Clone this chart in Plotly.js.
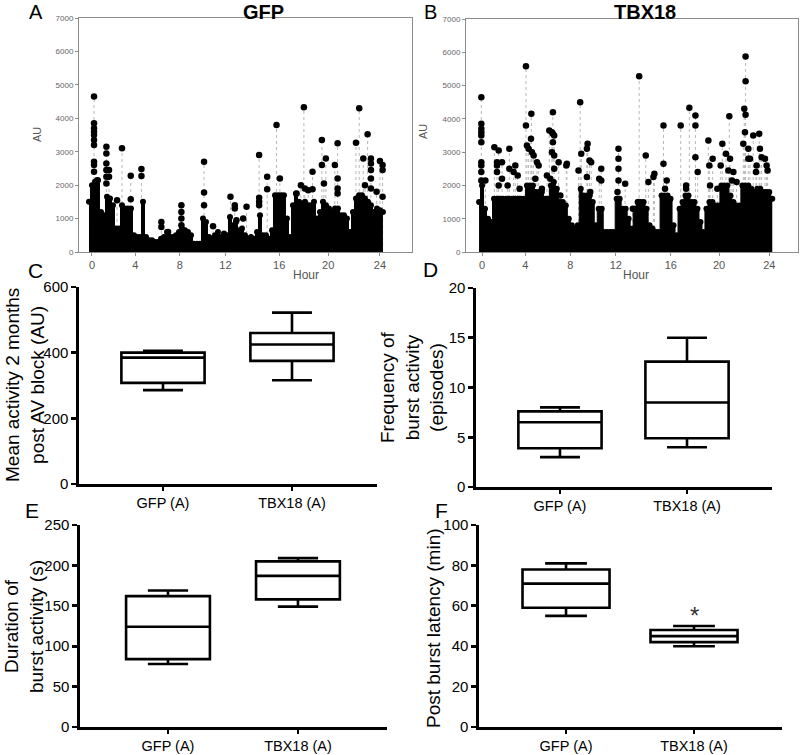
<!DOCTYPE html>
<html>
<head>
<meta charset="utf-8">
<script src="https://cdn.plot.ly/plotly-3.0.1.min.js"></script>
<style>html,body{margin:0;padding:0;background:#fff;}#chart{width:800px;height:755px;}</style>
</head>
<body>
<div id="chart"></div>
<script>
// ---------- DATA ----------
const hourLabels = ["0","4","8","12","16","20","24"];
const hourTickPosA = [0, 3.615, 7.314, 11.123, 15.599, 19.688, 24.0];
const hourTickPosB = [0, 3.615, 7.369, 11.179, 15.768, 19.8, 24.0];

// envelope of the dense activity mass (AU) on a quarter-hour grid
const envHours = [-0.25,0,0.25,0.5,0.75,1,1.25,1.5,1.75,2,2.25,2.5,2.75,3,3.25,3.5,3.75,4,4.25,4.5,4.75,5,5.25,5.5,5.75,6,6.25,6.5,6.75,7,7.25,7.5,7.75,8,8.25,8.5,8.75,9,9.25,9.5,9.75,10,10.25,10.5,10.75,11,11.25,11.5,11.75,12,12.25,12.5,12.75,13,13.25,13.5,13.75,14,14.25,14.5,14.75,15,15.25,15.5,15.75,16,16.25,16.5,16.75,17,17.25,17.5,17.75,18,18.25,18.5,18.75,19,19.25,19.5,19.75,20,20.25,20.5,20.75,21,21.25,21.5,21.75,22,22.25,22.5,22.75,23,23.25,23.5,23.75,24,24.25];
const envGFP = [1500,2000,2100,2150,1200,1100,1650,1600,1400,700,700,1400,1300,1300,1300,500,450,450,1500,450,350,350,300,300,400,450,600,450,450,500,600,700,650,600,500,250,250,250,1000,900,450,400,500,600,450,550,500,1050,800,900,650,700,500,400,450,400,600,1100,500,500,400,650,1700,1700,1700,1700,1000,450,1400,1750,1500,1450,1500,1400,1400,1500,1000,1200,1500,1400,1300,1200,1300,1300,1100,1100,1000,600,1200,1600,1700,1700,1600,1500,1400,1200,1300,1250,1200];
const envTBX = [1500,2000,1300,1000,900,1600,1600,1600,1600,1600,1600,1600,1600,1600,1600,1600,2000,2000,2000,1800,1800,1800,1600,1600,2000,2100,1900,1500,1500,1400,1000,800,700,800,1900,1700,1700,1700,1500,800,1300,1300,600,600,600,600,1600,1600,1300,1300,1000,700,1300,1500,1500,1500,1300,800,700,600,600,1700,1700,1700,1600,800,500,1300,1500,1700,1700,1500,1500,1300,900,600,1300,1500,1500,1400,1400,2000,2000,2000,1700,1500,1400,1400,2000,2000,2000,1900,1800,1900,1900,1800,1800,1800,1600];

// burst points above the mass: hour and the AU values recorded there
const peakHoursGFP = [0.17,0.44,1.2,1.42,2.09,2.5,3.23,4.12,5.78,6.34,7.45,9.34,10.09,11.54,11.9,12.04,12.6,12.88,13.93,14.6,15.38,15.66,17.05,17.41,17.66,17.74,18.02,18.38,19.16,19.33,19.49,20.24,20.47,22.0,22.27,22.61,22.75,22.97,23.25,23.72,24.0,24.22];
const peakAUGFP = [[4650,3850,3700,3600,3500,3350,3200,2700,2600,2400],[2150],[3150,2950,2650,2450,2250,2050],[2450,2250],[1550],[3100],[2280,1580],[2480,2270],[900,750],[600],[1400,1200,1000,800],[2700,1780,1400],[770],[1650],[1400,1300],[950],[1000],[1350],[2900,1620,1500,1400],[2250,1880],[3800],[2200],[1750],[2000],[4330],[1900],[1850],[2400,1880],[3350,2600],[2050],[2800],[2600],[3250,2200,1900,1750],[3270],[4300],[2800],[2000],[3520],[2800,2650,2450,2200,1900],[1800],[2720],[2600,2450,1650]];

const peakHoursTBX = [-0.06,0.28,1.03,1.25,1.39,1.67,2.14,2.28,2.64,2.78,2.98,3.14,3.67,3.75,3.89,4.09,4.12,4.17,4.31,4.45,4.59,4.73,5.0,5.42,5.62,5.7,5.84,5.92,6.03,6.4,6.54,7.04,7.09,8.06,8.2,8.29,8.76,8.82,8.98,9.04,9.12,9.79,9.96,11.32,11.4,11.96,12.6,13.07,13.13,13.68,13.9,14.32,14.4,15.16,15.29,15.43,16.6,17.05,17.32,17.83,18.02,18.91,18.99,19.05,19.27,19.66,19.94,20.08,20.38,20.58,20.66,20.72,20.88,21.0,21.27,21.83,21.91,21.97,22.02,22.25,22.39,22.66,22.89,22.94,23.16,23.22,23.36,23.64,23.78,23.86];
const peakAUTBX = [[4650,3850,3700,3600,3500,3300,2700,2600,2400,2150],[2150],[3150],[2700,2600,2400],[3050,2000],[2700,2200],[2000],[3100,2500],[2400],[2600],[2300],[1900],[5580,3800],[3200],[3100],[3400],[4150],[3000],[2900],[2200],[2700],[2600],[1900],[2300],[3650],[2200],[3600,3000],[4200,3550,3300],[3500,2900,2500],[2700],[1700],[2600],[2650],[2450],[4500],[2950],[3100,2250],[3250],[2750],[1800],[2700],[2200],[2500,2150],[1800],[3100,2800,2500,2150],[2050],[1300],[1500],[5280],[2900],[2100],[2250],[2350],[3800,2650],[1900],[2150],[3800],[2000,1900],[4330],[4100,3800,2850],[2400],[3350],[2600],[2000],[2800],[1900],[2600],[3250],[2950],[2450],[4080],[2800],[2150],[2400],[2100],[3250],[4300],[3600],[5870,5130,4120],[3100,2800],[2800],[3500],[2400],[2600],[3550],[3100],[2850],[2800],[2600],[2450]];

// box plot summaries
const boxGroups = ["GFP (A)", "TBX18 (A)"];
const meanActivity = {lower:[286,316], q1:[308,375], median:[385,425], q3:[400,460], upper:[406,522]};
const burstFrequency = {lower:[3,4], q1:[3.9,4.9], median:[6.5,8.5], q3:[7.6,12.6], upper:[8,15]};
const burstDuration = {lower:[78,149], q1:[84,158], median:[124,187], q3:[162,205], upper:[169,209]};
const burstLatency = {lower:[55,40], q1:[59,42], median:[71,45], q3:[78,48], upper:[81,50]};
const latencyStarValue = 56.6;

// ---------- BUILD ----------
const W = 800, H = 755;
const px = v => v / W, py = v => 1 - v / H;
const FONT = "Liberation Sans, Arial, Helvetica, sans-serif";

function expandPeaks(hours, vals) {
  const x = [], y = [], sx = [], sy = [];
  hours.forEach((h, i) => {
    vals[i].forEach(v => { x.push(h); y.push(v); });
    const top = Math.max.apply(null, vals[i]);
    sx.push(h, h, null); sy.push(0, top, null);
  });
  return {x, y, sx, sy};
}

function activityTraces(env, hours, vals, xa, ya) {
  const p = expandPeaks(hours, vals);
  return [
    {type:'scatter', mode:'lines', x:p.sx, y:p.sy, xaxis:xa, yaxis:ya,
     line:{color:'#b8b8b8', width:1, dash:'dot'}, hoverinfo:'skip', showlegend:false},
    {type:'scatter', mode:'lines+markers', x:envHours, y:env, xaxis:xa, yaxis:ya,
     fill:'tozeroy', fillcolor:'#000', line:{color:'#000', width:1, shape:'hvh'},
     marker:{color:'#000', size:6}, hoverinfo:'skip', showlegend:false},
    {type:'scatter', mode:'markers', x:p.x, y:p.y, xaxis:xa, yaxis:ya,
     marker:{color:'#000', size:6.5}, hoverinfo:'skip', showlegend:false}
  ];
}

function boxTrace(s, xa, ya, w) {
  return {type:'box', x:[0,1], q1:s.q1, median:s.median, q3:s.q3,
    lowerfence:s.lower, upperfence:s.upper, xaxis:xa, yaxis:ya,
    width:w, whiskerwidth:0.48, boxpoints:false,
    line:{color:'#000', width:2.6}, fillcolor:'rgba(255,255,255,0)',
    hoverinfo:'skip', showlegend:false};
}

const data = [
  ...activityTraces(envGFP, peakHoursGFP, peakAUGFP, 'x', 'y'),
  ...activityTraces(envTBX, peakHoursTBX, peakAUTBX, 'x2', 'y2'),
  boxTrace(meanActivity, 'x3', 'y3', 0.645),
  boxTrace(burstFrequency, 'x4', 'y4', 0.655),
  boxTrace(burstDuration, 'x5', 'y5', 0.645),
  boxTrace(burstLatency, 'x6', 'y6', 0.68)
];

function scatX(dom, rng, tv, anchor) {
  return {domain:dom, range:rng, anchor:anchor, tickvals:tv, ticktext:hourLabels,
    showline:true, mirror:true, linecolor:'#8c8c8c', linewidth:1,
    ticks:'outside', ticklen:3, tickcolor:'#8c8c8c', tickfont:{size:11, color:'#555', family:FONT},
    showgrid:false, zeroline:false};
}
function scatY(dom, anchor) {
  return {domain:dom, range:[0,7000], anchor:anchor, tickvals:[0,1000,2000,3000,4000,5000,6000,7000],
    showline:true, mirror:true, linecolor:'#8c8c8c', linewidth:1,
    ticks:'outside', ticklen:3, tickcolor:'#8c8c8c', tickfont:{size:8, color:'#666', family:FONT},
    showgrid:false, zeroline:false};
}
function boxX(dom, rng, anchor) {
  return {domain:dom, range:rng, anchor:anchor, tickvals:[0,1], ticktext:boxGroups,
    showline:true, linecolor:'#000', linewidth:2.6, ticks:'outside', ticklen:4, tickwidth:2.6, tickcolor:'#000',
    tickfont:{size:14.5, color:'#000', family:FONT}, showgrid:false, zeroline:false};
}
function boxY(dom, rng, dt, anchor) {
  return {domain:dom, range:rng, anchor:anchor, dtick:dt, tick0:0,
    showline:true, linecolor:'#000', linewidth:2.6, ticks:'outside', ticklen:5, tickwidth:2.6, tickcolor:'#000',
    tickfont:{size:15, color:'#000', family:FONT}, showgrid:false, zeroline:false};
}

function ann(text, x, y, size, opts) {
  return Object.assign({text:text, x:px(x), y:py(y), xref:'paper', yref:'paper',
    xanchor:'center', yanchor:'middle', showarrow:false,
    font:{size:size, color:'#000', family:FONT}}, opts || {});
}

const annotations = [
  ann('A', 36, 12, 20), ann('B', 431, 12, 20), ann('C', 35, 270, 21),
  ann('D', 430, 269, 21), ann('E', 32, 510, 21), ann('F', 441, 510, 21),
  ann('<b>GFP</b>', 263, 12, 20), ann('<b>TBX18</b>', 645, 12, 20),
  ann('Hour', 306, 275, 12, {font:{size:12, color:'#555', family:FONT}}),
  ann('Hour', 636, 275, 12, {font:{size:12, color:'#555', family:FONT}}),
  ann('AU', 37, 135, 11, {textangle:-90, font:{size:11, color:'#555', family:FONT}}),
  ann('AU', 423, 132, 11, {textangle:-90, font:{size:11, color:'#555', family:FONT}}),
  ann('Mean activity 2 months<br>post AV block (AU)', 25, 385, 19, {textangle:-90}),
  ann('Frequency of<br>burst activity<br>(episodes)', 412, 387, 19, {textangle:-90}),
  ann('Duration of<br>burst activity (s)', 24, 627, 19, {textangle:-90}),
  ann('Post burst latency (min)', 433, 628, 19, {textangle:-90}),
  {text:'*', x:1, y:latencyStarValue, xref:'x6', yref:'y6', xanchor:'center', yanchor:'middle',
   yshift:-3, showarrow:false, font:{size:24, color:'#333', family:FONT}}
];

const layout = {
  width:W, height:H, margin:{l:0, r:0, t:0, b:0},
  paper_bgcolor:'#fff', plot_bgcolor:'rgba(0,0,0,0)', showlegend:false,
  font:{family:FONT, color:'#000'},
  xaxis: scatX([px(79), px(412)], [-1.083, 26.67], hourTickPosA, 'y'),
  yaxis: scatY([py(252), py(18)], 'x'),
  xaxis2: scatX([px(466), px(798)], [-1.34, 26.4], hourTickPosB, 'y2'),
  yaxis2: scatY([py(252), py(19)], 'x2'),
  xaxis3: boxX([px(79), px(377)], [-0.651, 1.659], 'y3'),
  yaxis3: boxY([py(484), py(287)], [0,600], 200, 'x3'),
  xaxis4: boxX([px(476), px(772)], [-0.661, 1.669], 'y4'),
  yaxis4: boxY([py(487), py(288)], [0,20], 5, 'x4'),
  xaxis5: boxX([px(80), px(387)], [-0.677, 1.685], 'y5'),
  yaxis5: boxY([py(727), py(525)], [0,250], 50, 'x5'),
  xaxis6: boxX([px(479), px(782)], [-0.68, 1.6875], 'y6'),
  yaxis6: boxY([py(727), py(525)], [0,100], 20, 'x6'),
  annotations: annotations
};

Plotly.newPlot('chart', data, layout, {staticPlot:true, displayModeBar:false});
</script>
</body>
</html>
